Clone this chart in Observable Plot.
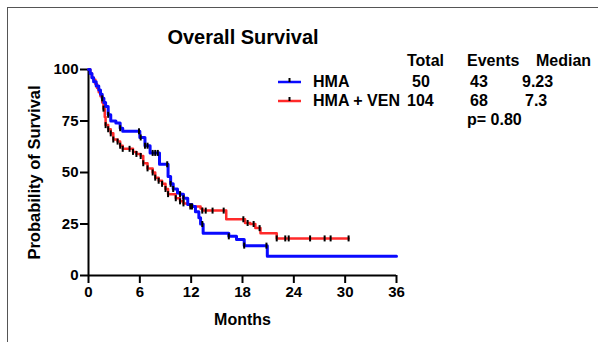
<!DOCTYPE html>
<html><head><meta charset="utf-8">
<script src="https://cdn.jsdelivr.net/npm/d3@7"></script>
<script src="https://cdn.jsdelivr.net/npm/@observablehq/plot@0.6"></script>
<style>
html,body{margin:0;padding:0;background:#fff;}
#wrap{position:relative;width:598px;height:342px;overflow:hidden;font-family:"Liberation Sans",Arial,sans-serif;}
#border{position:absolute;left:7px;top:7px;width:700px;height:500px;border-left:1.5px solid #555;border-top:1.5px solid #555;}
#chart{position:absolute;left:0;top:0;}
#overlay{position:absolute;left:0;top:0;}
</style></head><body>
<div id="wrap"><div id="border"></div><div id="chart"></div><svg id="overlay" width="598" height="342"></svg></div>
<script>
// ---- data ----
const title = "Overall Survival";
const xTicks = [0, 6, 12, 18, 24, 30, 36];
const yTicks = [0, 25, 50, 75, 100];
const xLabel = "Months";
const yLabel = "Probability of Survival";

const groups = ["HMA", "HMA + VEN"];
const totals = [50, 104];
const events = [43, 68];
const medians = ["9.23", "7.3"];
const headers = ["Total", "Events", "Median"];
const pText = "p= 0.80";

// HMA (blue) step curve: time (months) and survival (%)
const hmaTime = [0, 0.2, 0.4, 0.6, 0.9, 1.2, 1.4, 1.6, 1.8, 2.0, 2.3, 2.6, 3.2, 3.7, 4.0, 6.0, 6.6, 7.2, 8.3, 9.3, 9.6, 9.9, 10.4, 10.7, 11.1, 11.6, 12.1, 12.5, 12.9, 13.1, 13.4, 16.4, 17.3, 18.2, 20.9, 36];
const hmaSurv = [100, 98, 96, 94, 92, 90, 88, 86, 84, 82, 78, 75, 74, 71.5, 70, 67, 63, 59.5, 54, 48, 44.5, 42, 40, 39.5, 37.5, 34.5, 33.5, 31, 28, 25, 20.5, 19, 17.5, 14.5, 9.3, 9.3];
const hmaCensor = [1.6, 2.3, 3.7, 5.9, 6.1, 6.6, 6.9, 7.5, 7.8, 8.1, 9.2, 9.6, 9.9, 10.7, 11.1, 12.1, 13.3, 16.4, 18.2, 20.8];

// HMA + VEN (red) step curve
const venTime = [0, 0.2, 0.4, 0.6, 0.8, 1.0, 1.2, 1.4, 1.6, 1.75, 1.9, 2.0, 2.3, 2.6, 2.9, 3.4, 3.7, 4.0, 5.2, 5.6, 6.1, 6.4, 6.9, 7.5, 7.8, 8.2, 8.6, 9.0, 9.3, 10.2, 10.7, 11.1, 11.6, 11.9, 13.1, 13.3, 16.1, 18.3, 18.9, 19.5, 20.1, 22.0, 30.4];
const venSurv = [100, 98, 96, 95, 93, 91, 89, 87, 84, 81, 77, 73, 71, 69, 66, 65, 63, 61.5, 60, 59, 58, 54.5, 52, 50, 47.5, 46, 44.5, 42, 39.5, 37.5, 36, 35, 34.5, 33.5, 32.5, 31.5, 27.3, 25.5, 25, 23, 20.5, 18, 18];
const venCensor = [1.75, 2.0, 2.3, 2.6, 2.9, 3.4, 3.7, 4.0, 4.8, 5.2, 5.6, 6.1, 6.4, 6.9, 7.5, 7.8, 8.2, 8.6, 9.0, 9.3, 10.2, 10.7, 11.1, 11.9, 13.3, 13.7, 14.5, 15.8, 18.1, 18.6, 19.3, 20.0, 22.0, 23.0, 23.4, 25.9, 27.6, 28.3, 30.4];

const colors = ["#0a0aff", "#ff2a2a"];

// ---- build tables ----
const hmaData = hmaTime.map((t, i) => ({t, s: hmaSurv[i]}));
const venData = venTime.map((t, i) => ({t, s: venSurv[i]}));
function survAt(T, S, t) { let v = S[0]; for (let i = 0; i < T.length; i++) if (T[i] <= t) v = S[i]; return v; }
const censors = [
  ...venCensor.map(t => ({t, s: survAt(venTime, venSurv, t)})),
  ...hmaCensor.map(t => ({t, s: survAt(hmaTime, hmaSurv, t)}))
];
const tickSymbol = {draw(ctx, size) { const r = Math.sqrt(size / Math.PI); ctx.moveTo(0, -r); ctx.lineTo(0, r); }};

const font = "Liberation Sans, Arial, sans-serif";
const plot = Plot.plot({
  width: 598, height: 342,
  marginLeft: 88, marginRight: 202, marginTop: 69, marginBottom: 67,
  style: {fontFamily: font, fontWeight: "bold", fontSize: "15px", color: "#000", background: "transparent"},
  x: {domain: [0, 36]},
  y: {domain: [0, 100]},
  marks: [
    Plot.axisX({ticks: xTicks, tickSize: 8, tickPadding: 3, strokeWidth: 2, fontSize: 15, label: null}),
    Plot.axisX({ticks: [], tickSize: 0, fontSize: 16, label: xLabel, labelAnchor: "center", labelArrow: "none", labelOffset: 49}),
    Plot.axisY({ticks: yTicks, tickSize: 8, tickPadding: 2, strokeWidth: 2, fontSize: 15, label: null}),
    Plot.axisY({ticks: [], tickSize: 0, fontSize: 16.5, label: yLabel, labelAnchor: "center", labelArrow: "none", labelOffset: 60}),
    Plot.ruleX([0], {strokeWidth: 2}),
    Plot.ruleY([0], {strokeWidth: 2}),
    Plot.line(venData, {x: "t", y: "s", curve: "step-after", stroke: colors[1], strokeWidth: 2.5}),
    Plot.line(hmaData, {x: "t", y: "s", curve: "step-after", stroke: colors[0], strokeWidth: 3}),
    Plot.dot(censors, {x: "t", y: "s", symbol: tickSymbol, r: 3, fill: "none", stroke: "#000", strokeWidth: 2})
  ]
});
document.getElementById("chart").appendChild(plot);

// ---- title and legend table ----
const ov = d3.select("#overlay").style("font-family", font).style("font-weight", "bold");
ov.append("text").attr("x", 243).attr("y", 44).attr("text-anchor", "middle").attr("font-size", 20).text(title);
const hx = [407, 467, 536];
headers.forEach((h, i) => ov.append("text").attr("x", hx[i]).attr("y", 66).attr("font-size", 16).text(h));
const rowY = [87, 106];
const totX = [412, 407], evX = [470, 470], medX = [522, 525];
groups.forEach((g, i) => {
  const y = rowY[i];
  ov.append("line").attr("x1", 278).attr("x2", 301).attr("y1", y - 5).attr("y2", y - 5).attr("stroke", colors[i]).attr("stroke-width", 2.5);
  ov.append("line").attr("x1", 289.5).attr("x2", 289.5).attr("y1", y - 9).attr("y2", y - 5).attr("stroke", "#000").attr("stroke-width", 2);
  ov.append("text").attr("x", 313).attr("y", y).attr("font-size", 16).text(g);
  ov.append("text").attr("x", totX[i]).attr("y", y).attr("font-size", 16).text(totals[i]);
  ov.append("text").attr("x", evX[i]).attr("y", y).attr("font-size", 16).text(events[i]);
  ov.append("text").attr("x", medX[i]).attr("y", y).attr("font-size", 16).text(medians[i]);
});
ov.append("text").attr("x", 467).attr("y", 125).attr("font-size", 16).text(pText);
</script>
</body></html>
